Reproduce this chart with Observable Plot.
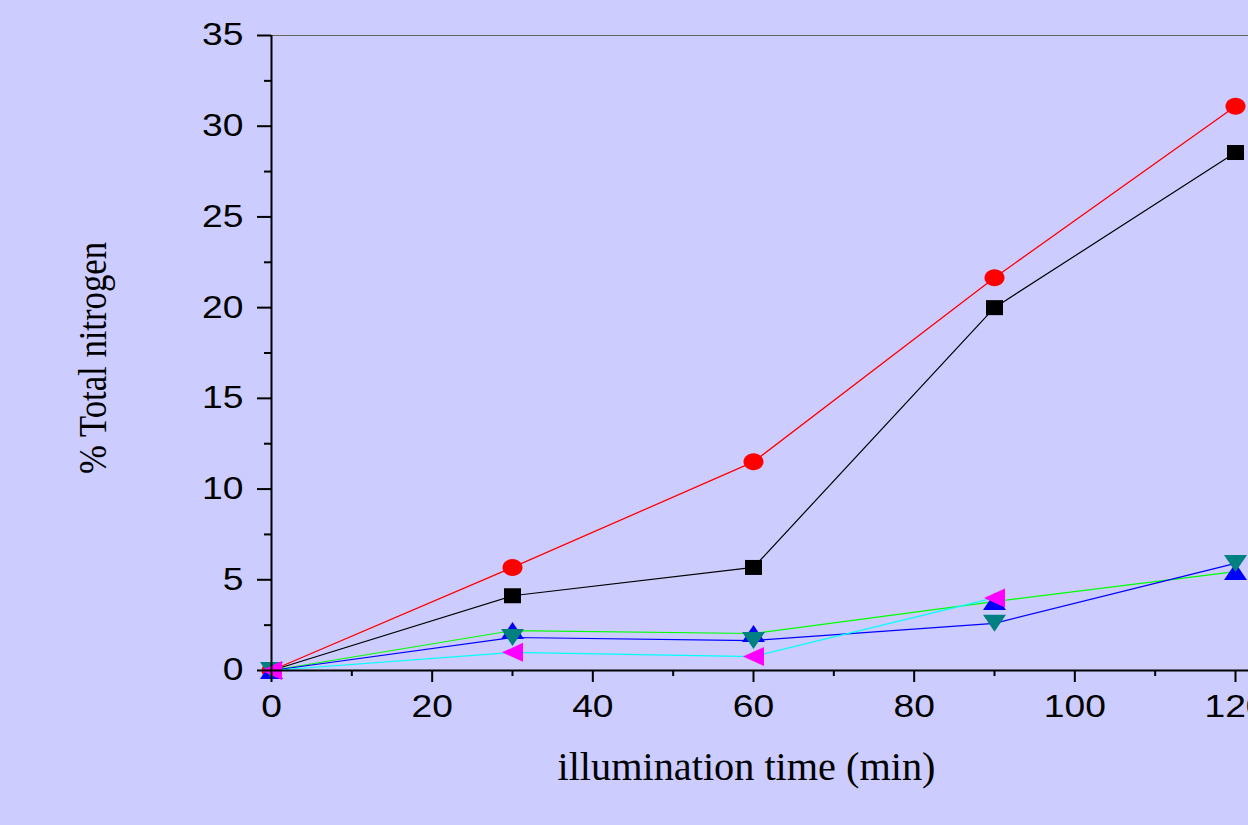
<!DOCTYPE html>
<html>
<head>
<meta charset="utf-8">
<script src="https://cdn.jsdelivr.net/npm/d3@7"></script>
<script src="https://cdn.jsdelivr.net/npm/@observablehq/plot@0.6"></script>
<style>
  html, body { margin: 0; padding: 0; background: #ccccff; overflow: hidden; }
  #chart svg { display: block; background: #ccccff; }
</style>
</head>
<body>
<div id="chart"></div>
<script>
// ---- data ----
const times = [0, 30, 60, 90, 120];
const timesCyan = [0, 30, 60, 90];
const redCircles = [0, 5.68, 11.5, 21.65, 31.1];
const blackSquares = [0, 4.12, 5.68, 20.0, 28.55];
const greenUp = [0, 2.2, 2.04, 3.8, 5.45];
const blueDown = [0, 1.82, 1.65, 2.6, 5.9];
const cyanLeft = [0, 1.0, 0.77, 4.0];
const xTicks = [0, 20, 40, 60, 80, 100, 120];
const xMinor = [10, 30, 50, 70, 90, 110];
const yTicks = [0, 5, 10, 15, 20, 25, 30, 35];
const yMinor = [2.5, 7.5, 12.5, 17.5, 22.5, 27.5, 32.5];
const xLabel = "illumination time (min)";
const yLabel = "% Total nitrogen";

const toRows = (xs, ys) => xs.map((t, i) => ({t, v: ys[i]}));

// custom marker shapes
const ellipseSym = {draw(c) {
  const rx = 10, ry = 8.5, k = 0.5523;
  c.moveTo(rx, 0);
  c.bezierCurveTo(rx, ry * k, rx * k, ry, 0, ry);
  c.bezierCurveTo(-rx * k, ry, -rx, ry * k, -rx, 0);
  c.bezierCurveTo(-rx, -ry * k, -rx * k, -ry, 0, -ry);
  c.bezierCurveTo(rx * k, -ry, rx, -ry * k, rx, 0);
  c.closePath();
}};
const squareSym = {draw(c) { c.rect(-8.5, -7.5, 17, 15); }};
const triUpSym = {draw(c) { c.moveTo(0, -8.5); c.lineTo(11.5, 8.5); c.lineTo(-11.5, 8.5); c.closePath(); }};
const triDownSym = {draw(c) { c.moveTo(0, 8.5); c.lineTo(11.5, -8.5); c.lineTo(-11.5, -8.5); c.closePath(); }};
const triLeftSym = {draw(c) { c.moveTo(-10.5, 0); c.lineTo(10.5, -9.5); c.lineTo(10.5, 9.5); c.closePath(); }};

const series = [
  {xs: times, ys: blackSquares, line: "#000000", fill: "#000000", sym: squareSym, w: 1.2},
  {xs: times, ys: redCircles, line: "#ff0000", fill: "#ff0000", sym: ellipseSym, w: 1.3},
  {xs: times, ys: greenUp, line: "#00ff00", fill: "#0000ff", sym: triUpSym, w: 1.2},
  {xs: times, ys: blueDown, line: "#0000ff", fill: "#008080", sym: triDownSym, w: 1.2},
  {xs: timesCyan, ys: cyanLeft, line: "#00ffff", fill: "#ff00ff", sym: triLeftSym, w: 1.2}
];

const tickFont = "Liberation Sans";
const chart = Plot.plot({
  width: 1248,
  height: 825,
  marginLeft: 271,
  marginRight: 13,
  marginTop: 35,
  marginBottom: 155,
  style: {background: "#ccccff", fontFamily: tickFont, overflow: "hidden"},
  x: {domain: [0, 120]},
  y: {domain: [0, 35]},
  marks: [
    // frame line on top
    Plot.ruleY([35], {x1: 0, x2: 126, stroke: "#666666", strokeWidth: 1.2}),
    // lines
    ...series.map(s => Plot.line(toRows(s.xs, s.ys), {x: "t", y: "v", stroke: s.line, strokeWidth: s.w})),
    // markers
    ...series.map(s => Plot.dot(toRows(s.xs, s.ys), {x: "t", y: "v", symbol: s.sym, fill: s.fill, stroke: "none", r: 5})),
    // axes
    Plot.axisY(yTicks, {tickSize: 14, tickPadding: 14, fontSize: 31, tickFormat: d => String(d), stroke: "#000", strokeWidth: 2, color: "#000", label: null}),
    Plot.axisY(yMinor, {tickSize: 7, tickFormat: () => "", stroke: "#000", strokeWidth: 2, label: null}),
    Plot.axisX(xTicks, {tickSize: 12, tickPadding: 12, fontSize: 31, tickFormat: d => String(d), stroke: "#000", strokeWidth: 2, color: "#000", label: null}),
    Plot.axisX(xMinor, {tickSize: 6, tickFormat: () => "", stroke: "#000", strokeWidth: 2, label: null}),
    Plot.ruleX([0], {stroke: "#000", strokeWidth: 2}),
    Plot.ruleY([0], {x1: 0, x2: 126, stroke: "#000", strokeWidth: 2}),
    // axis titles
    Plot.text([xLabel], {text: d => d, frameAnchor: "bottom", dy: 109, dx: -7, fontFamily: "Liberation Serif", fontSize: 40, fill: "#000"}),
    Plot.text([yLabel], {text: d => d, frameAnchor: "left", textAnchor: "middle", dx: -178, dy: 5, rotate: -90, fontFamily: "Liberation Serif", fontSize: 40, fill: "#000"})
  ]
});
document.getElementById("chart").appendChild(chart);

// widen tick labels horizontally as in the reference's stretched rendering
chart.querySelectorAll('g[aria-label="y-axis tick label"] text, g[aria-label="x-axis tick label"] text').forEach(t => {
  const L = t.getComputedTextLength();
  if (L > 0) {
    t.setAttribute("textLength", (L * 1.2).toFixed(1));
    t.setAttribute("lengthAdjust", "spacingAndGlyphs");
  }
});
chart.querySelectorAll("text").forEach(t => {
  if (t.textContent === xLabel) { t.setAttribute("textLength", "378"); t.setAttribute("lengthAdjust", "spacingAndGlyphs"); }
  if (t.textContent === yLabel) { t.setAttribute("textLength", "232"); t.setAttribute("lengthAdjust", "spacingAndGlyphs"); }
});
</script>
</body>
</html>
